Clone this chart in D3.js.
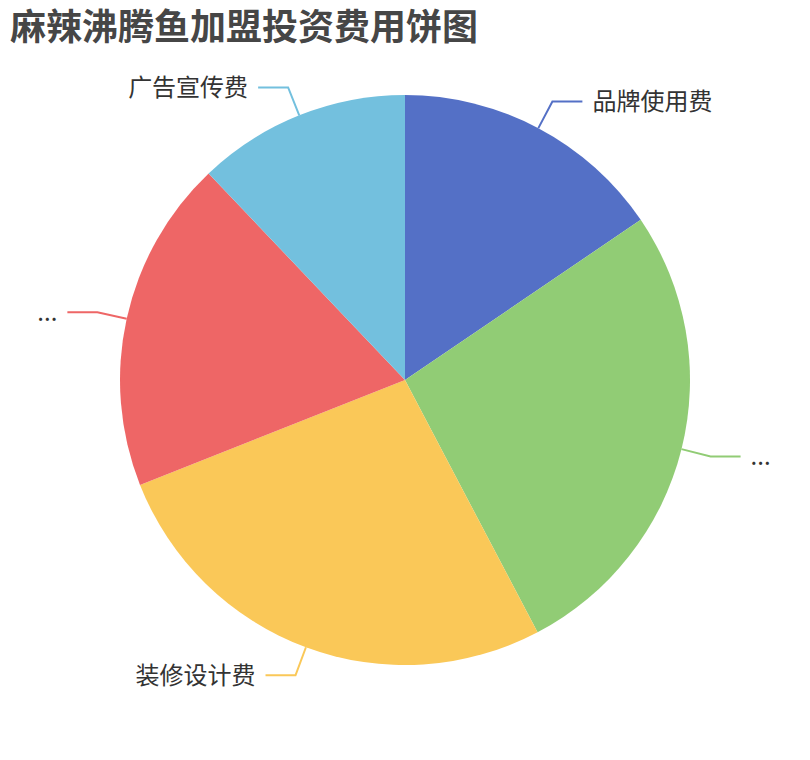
<!DOCTYPE html>
<html>
<head>
<meta charset="utf-8">
<script src="https://cdn.jsdelivr.net/npm/d3@7"></script>
<style>
  html, body { margin: 0; padding: 0; background: #fff; }
  svg { display: block; font-family: "Noto Sans CJK SC", "Noto Sans", sans-serif; }
</style>
</head>
<body>
<div id="chart"></div>
<script>
// data (shares of the pie)
const categories = ['品牌使用费', '...', '装修设计费', '...', '广告宣传费'];
const values = [15.5, 26.8, 26.7, 18.9, 12.1];
const colors = ['#5470c6', '#91cc75', '#fac858', '#ee6666', '#73c0de'];
const title = '麻辣沸腾鱼加盟投资费用饼图';

const width = 810, height = 760;
const cx = width / 2, cy = height / 2;
const radius = Math.min(width, height) / 2 * 0.75;
const len1 = 30, len2 = 30, gap = 10;

const svg = d3.select('#chart').append('svg')
  .attr('width', width)
  .attr('height', height);

// title
svg.append('text')
  .attr('x', 10)
  .attr('y', 40)
  .attr('font-size', '36px')
  .attr('font-weight', 'bold')
  .attr('fill', '#464646')
  .text(title);

const data = categories.map((c, i) => ({ name: c, value: values[i], color: colors[i] }));

const pie = d3.pie()
  .sort(null)
  .value(d => d.value);

const arc = d3.arc()
  .innerRadius(0)
  .outerRadius(radius);

const g = svg.append('g')
  .attr('transform', 'translate(' + cx + ',' + cy + ')');

const arcs = pie(data);

g.selectAll('path.slice')
  .data(arcs)
  .join('path')
  .attr('class', 'slice')
  .attr('d', arc)
  .attr('fill', d => d.data.color);

// label lines + labels
arcs.forEach(function(d) {
  const mid = (d.startAngle + d.endAngle) / 2;
  const sx = Math.sin(mid), sy = -Math.cos(mid);
  const p0 = [sx * radius, sy * radius];
  const p1 = [sx * (radius + len1), sy * (radius + len1)];
  const dir = sx >= 0 ? 1 : -1;
  const p2 = [p1[0] + dir * len2, p1[1]];

  g.append('polyline')
    .attr('points', [p0, p1, p2].map(p => p.join(',')).join(' '))
    .attr('fill', 'none')
    .attr('stroke', d.data.color)
    .attr('stroke-width', 2);

  g.append('text')
    .attr('x', p2[0] + dir * gap)
    .attr('y', p2[1])
    .attr('dy', '0.35em')
    .attr('text-anchor', dir > 0 ? 'start' : 'end')
    .attr('font-size', '24px')
    .attr('fill', '#333')
    .text(d.data.name);
});
</script>
</body>
</html>
